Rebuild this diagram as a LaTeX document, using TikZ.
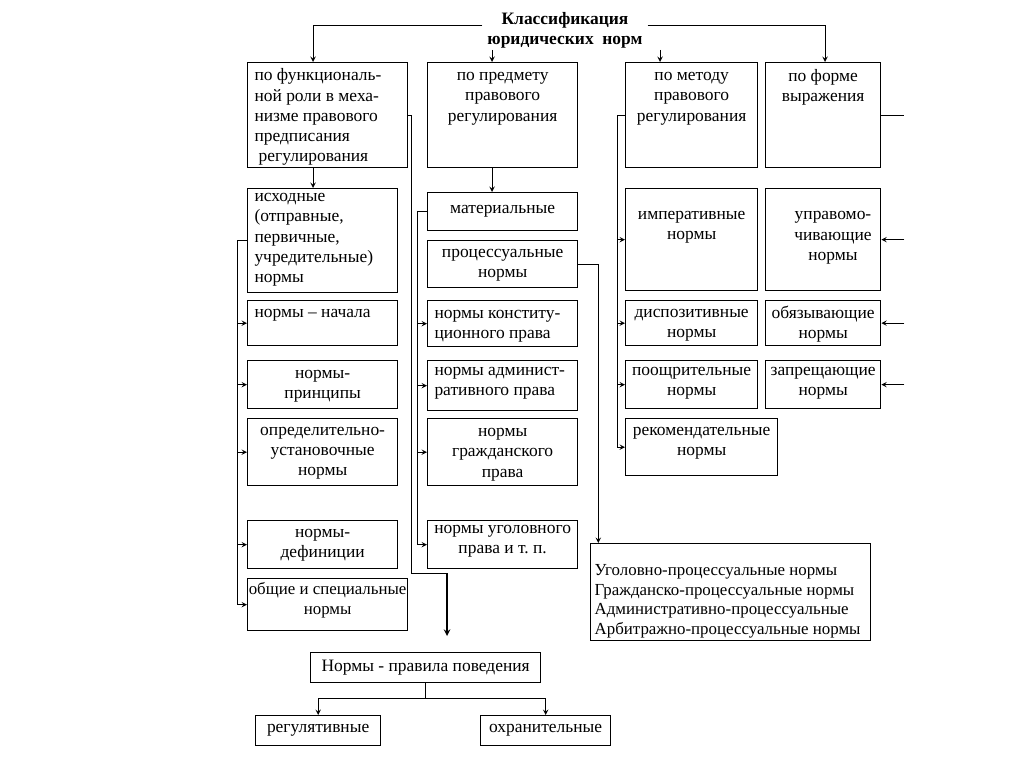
\documentclass[tikz,border=0pt]{standalone}
\usepackage{fontspec}
\setmainfont{Liberation Serif}
\usetikzlibrary{arrows}
\usetikzlibrary{calc}
\usetikzlibrary{positioning}
\tikzset{
	normschema/.style = {
		>=stealth, x=0.025cm, y=-0.025cm, line width=0.7pt,
		font=\fontsize{12.4}{14.4}\selectfont,
	},
	box/.style 2 args = {
		draw, line width=0.9pt, anchor=north west, inner sep=0pt,
		minimum width=#1*0.025cm, minimum height=#2*0.025cm,
	},
	lt/.style = {anchor=north west, align=left, inner sep=0pt, xshift=5pt, yshift=-6pt},
	ct/.style = {anchor=north, align=center, inner sep=0pt, yshift=-6pt},
}

\begin{document}
\begin{tikzpicture}[normschema]
	\useasboundingbox (0,0) rectangle (1024,767);
	\node[font=\fontsize{12.4}{14.4}\selectfont\bfseries, align=center] (title) at (565,30) {Классификация\\юридических~~норм};
	
	% header row
	\node[box={160}{105}, label={[lt, yshift=1.5pt]north west:{по функциональ-\\ной роли в меха-\\низме правового\\предписания\\\hspace{3pt}регулирования}}] (func) at (247,62) {};
	\node[box={150}{105}, label={[ct, yshift=-1pt]north:{по предмету\\правового\\регулирования}}] (subj) at (427,62) {};
	\node[box={132}{105}, label={[ct, yshift=-1pt]north:{по методу\\правового\\регулирования}}] (meth) at (625,62) {};
	\node[box={115}{105}, label={[ct, yshift=1pt]north:{по форме\\выражения}}] (form) at (765,62) {};
	
	% first column
	\node[box={150}{104}, label={[lt, yshift=2.5pt]north west:{исходные\\(отправные,\\первичные,\\учредительные)\\нормы}}] (isx) at (247,188) {};
	\node[box={150}{45}, label={[lt]north west:{нормы -- начала}}] (nach) at (247,300) {};
	\node[box={150}{48}, label={[ct, yshift=-1pt]north:{нормы-\\принципы}}] (princ) at (247,360) {};
	\node[box={150}{67}, label={[ct]north:{определительно-\\установочные\\нормы}}] (opred) at (247,418) {};
	\node[box={150}{48}, label={[ct]north:{нормы-\\дефиниции}}] (defin) at (247,520) {};
	\node[box={160}{52}, label={[ct, yshift=3.5pt, font=\fontsize{12}{14.4}\selectfont]north:{общие и специальные\\нормы}}] (obsh) at (247,578) {};
	
	% second column
	\node[box={150}{38}] (mat) at (427,192) {материальные};
	\node[box={150}{47}, label={[ct]north:{процессуальные\\нормы}}] (proc) at (427,240) {};
	\node[box={150}{46}, label={[lt, yshift=-1pt]north west:{нормы конститу-\\ционного права}}] (konst) at (427,300) {};
	\node[box={150}{50}, label={[lt, yshift=1.5pt]north west:{нормы админист-\\ративного права}}] (admin) at (427,360) {};
	\node[box={150}{67}, label={[ct, yshift=-1pt]north:{нормы\\гражданского\\права}}] (grazh) at (427,418) {};
	\node[box={150}{48}, label={[ct, yshift=2.5pt]north:{нормы уголовного\\права и т.~п.}}] (ugol) at (427,520) {};
	\node[box={280}{97}, label={[lt, xshift=-2pt, yshift=-9pt, font=\fontsize{12}{13.9}\selectfont]north west:{Уголовно-процессуальные нормы\\Гражданско-процессуальные нормы\\Административно-процессуальные\\Арбитражно-процессуальные нормы}}] (bigp) at (590,543) {};
	
	% third and fourth column
	\node[box={132}{102}, label={[ct, yshift=-10pt]north:{императивные\\нормы}}] (imper) at (625,188) {};
	\node[box={132}{45}, label={[ct]north:{диспозитивные\\нормы}}] (disp) at (625,300) {};
	\node[box={132}{48}, label={[ct, yshift=1pt]north:{поощрительные\\нормы}}] (pooshch) at (625,360) {};
	\node[box={152}{57}, label={[ct]north:{рекомендательные\\нормы}}] (rekom) at (625,418) {};
	\node[box={115}{102}, label={[ct, yshift=-10.5pt, xshift=7pt]north:{управомо-\\чивающие\\нормы}}] (uprav) at (765,188) {};
	\node[box={115}{45}, label={[ct, yshift=2pt]north:{обязывающие\\нормы}}] (obyaz) at (765,300) {};
	\node[box={115}{48}, label={[ct, yshift=1pt]north:{запрещающие\\нормы}}] (zapr) at (765,360) {};
	
	% rules of conduct
	\node[box={230}{30}] (beh) at (310,652) {Нормы - правила поведения};
	\node[box={125}{30}] (reg) at (255,715) {регулятивные};
	\node[box={130}{30}] (okhr) at (480,715) {охранительные};
	
	% from the title
	\coordinate (a1) at (313,25);
	\coordinate (a2) at (492,50);
	\coordinate (a3) at (660,50);
	\coordinate (a4) at (825,25);
	\draw[->] (title.west |- a1) -- (a1) -- (a1 |- func.north);
	\draw[->] (title.east |- a4) -- (a4) -- (a4 |- form.north);
	\draw[->] (a2) -- (a2 |- subj.north);
	\draw[->] (a3) -- (a3 |- meth.north);
	
	% first column
	\draw[->] (func.south -| a1) -- (isx.north -| a1);
	\coordinate[left=0.25cm of isx.west] (b1);
	\draw (isx.west) -- (b1);
	\draw[->] (b1) |- (nach.west);
	\draw[->] (b1) |- (princ.west);
	\draw[->] (b1) |- (opred.west);
	\draw[->] (b1) |- (defin.west);
	\draw[->] (b1) |- (obsh.west);
	\coordinate[right=0.075cm of func.east] (d1);
	\coordinate (e1) at (447,573);
	\coordinate (f1) at (447,636);
	\draw (func.east) -- (d1) |- (e1);
	\draw[->, line width=1.1pt] (e1) -- (f1);
	
	% second column
	\draw[->] (subj.south -| a2) -- (mat.north -| a2);
	\coordinate[left=0.25cm of mat.west] (b2);
	\draw (mat.west) -- (b2);
	\draw[->] (b2) |- (konst.west);
	\draw[->] (b2) |- (admin.west);
	\draw[->] (b2) |- (grazh.west);
	\draw[->] (b2) |- (ugol.west);
	\coordinate[right=0.5cm of proc.east] (c1);
	\draw[->] (proc.east) -- (c1) -- (c1 |- bigp.north);
	
	% third column
	\coordinate[left=0.2cm of meth.west] (b3);
	\draw (meth.west) -- (b3);
	\draw[->] (b3) |- (imper.west);
	\draw[->] (b3) |- (disp.west);
	\draw[->] (b3) |- (pooshch.west);
	\draw[->] (b3) |- (rekom.west);
	
	% fourth column
	\coordinate[right=0.575cm of form.east] (g1);
	\draw (form.east) -- (g1);
	\coordinate[right=0.575cm of uprav.east] (g2);
	\coordinate[right=0.575cm of obyaz.east] (g3);
	\coordinate[right=0.575cm of zapr.east] (g4);
	\draw[->] (g2) -- (uprav.east);
	\draw[->] (g3) -- (obyaz.east);
	\draw[->] (g4) -- (zapr.east);
	
	% regulative and protective
	\draw[->] (beh.south) -- ++(0,15) -| (reg.north);
	\draw[->] (beh.south) -- ++(0,15) -| (okhr.north);
\end{tikzpicture}
\end{document}
